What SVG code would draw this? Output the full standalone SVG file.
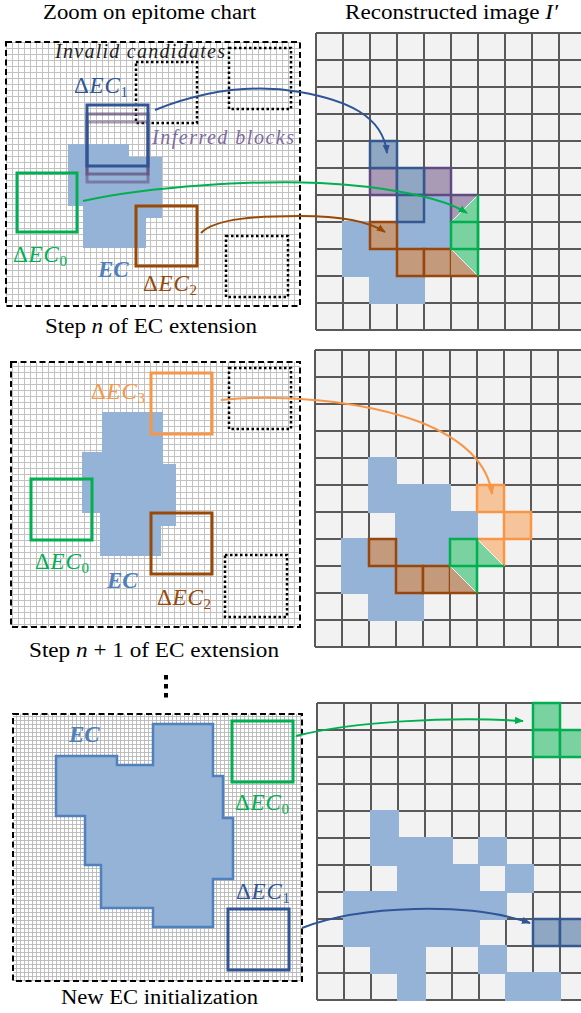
<svg xmlns="http://www.w3.org/2000/svg" width="581" height="1013" viewBox="0 0 581 1013">
<style>
text{font-family:'Liberation Serif','DejaVu Serif',serif}
.t{font-size:20px;fill:#000}
.i{font-style:italic}
.m{font-size:23px;font-style:italic;letter-spacing:0.8px}
.u{font-style:normal}
.sub{font-size:15px;font-style:normal}
.ec{font-size:23px;font-style:italic;font-weight:bold;fill:#4f81bd}
.note{font-size:20px;font-style:italic}
.dash{fill:none;stroke:#000;stroke-width:2;stroke-dasharray:6 3.5}
.dot{fill:none;stroke:#000;stroke-width:2.5;stroke-dasharray:2.5 2.5}
.box{fill:none;stroke-width:3}
.gline{fill:none;stroke:#595959;stroke-width:2}
.ecf{fill:#95b3d7}
.cb{fill:#8fa7c3;stroke:#35598f;stroke-width:2.5}
.cp{fill:#a99ab6;stroke:#5f4b80;stroke-width:2.5}
.cr{fill:#c39a7c;stroke:#97470c;stroke-width:2.5}
.cg{fill:#79d2a0;stroke:#00b050;stroke-width:2.5}
.co{fill:#f6c49a;stroke:#f79646;stroke-width:2.5}
.diag{stroke:#fff;stroke-width:0.8;fill:none}
.conn{fill:none;stroke-width:2}
</style>
<defs>
<pattern id="fg" width="6" height="6" patternUnits="userSpaceOnUse">
<rect width="6" height="6" fill="#fff"/>
<path d="M0,0.5H6M0.5,0V6" stroke="#c2c2c2" stroke-width="1"/>
</pattern>
<pattern id="fg2" width="4" height="4" patternUnits="userSpaceOnUse">
<rect width="4" height="4" fill="#fff"/>
<path d="M0,0.5H4M0.5,0V4" stroke="#b8b8b8" stroke-width="0.9"/>
</pattern>
<g id="grid">
<rect x="0" y="0" width="297" height="297" fill="#f2f2f2"/>
<path class="gline" d="M0 0V297M27 0V297M54 0V297M81 0V297M108 0V297M135 0V297M162 0V297M189 0V297M216 0V297M243 0V297M270 0V297M0 0H297M0 27H297M0 54H297M0 81H297M0 108H297M0 135H297M0 162H297M0 189H297M0 216H297M0 243H297M0 270H297M0 297H297"/>
</g>
<marker id="ab" viewBox="0 0 10 10" refX="9" refY="5" markerWidth="9" markerHeight="9" markerUnits="userSpaceOnUse" orient="auto"><path d="M0,1 L10,5 L0,9 z" fill="#2f5597"/></marker>
<marker id="ag" viewBox="0 0 10 10" refX="9" refY="5" markerWidth="9" markerHeight="9" markerUnits="userSpaceOnUse" orient="auto"><path d="M0,1 L10,5 L0,9 z" fill="#00b050"/></marker>
<marker id="ar" viewBox="0 0 10 10" refX="9" refY="5" markerWidth="9" markerHeight="9" markerUnits="userSpaceOnUse" orient="auto"><path d="M0,1 L10,5 L0,9 z" fill="#984807"/></marker>
<marker id="ao" viewBox="0 0 10 10" refX="9" refY="5" markerWidth="9" markerHeight="9" markerUnits="userSpaceOnUse" orient="auto"><path d="M0,1 L10,5 L0,9 z" fill="#f79646"/></marker>
</defs>

<g id="titles">
<text class="t" x="43" y="19" textLength="213" lengthAdjust="spacingAndGlyphs">Zoom on epitome chart</text>
<text class="t" x="345" y="19" textLength="213" lengthAdjust="spacingAndGlyphs">Reconstructed image <tspan class="i">I′</tspan></text>
</g>

<g id="chart-step-n">
<rect x="6" y="42" width="294" height="264" fill="url(#fg)"/>
<polygon class="ecf" points="68,144 129,144 129,157 162,157 162,218 146,218 146,248 83,248 83,206 68,206"/>
<rect class="dot" x="136" y="62" width="61" height="61"/>
<rect class="dot" x="229" y="48" width="62" height="61"/>
<rect class="dot" x="226" y="236" width="62" height="61"/>
<rect class="box" x="17" y="173" width="60" height="59" stroke="#00b050"/>
<rect class="box" x="136" y="206" width="61" height="60" stroke="#984807"/>
<rect class="box" x="87" y="122" width="61" height="60" stroke="#604a7b" stroke-opacity="0.55"/>
<rect class="box" x="87" y="114" width="61" height="60" stroke="#604a7b" stroke-opacity="0.7"/>
<rect class="box" x="87" y="105" width="61" height="61" stroke="#2f5597"/>
<rect class="dash" x="6" y="42" width="294" height="264"/>
<text class="note" x="55" y="58" fill="#1e1e1e" textLength="170" lengthAdjust="spacing">Invalid candidates</text>
<text class="note" x="152" y="144" fill="#7f6a9e" textLength="142" lengthAdjust="spacing">Inferred blocks</text>
<text class="m" x="74" y="93" fill="#2f5597"><tspan class="u">Δ</tspan>EC<tspan class="sub" dy="4">1</tspan></text>
<text class="m" x="13" y="262" fill="#00b050"><tspan class="u">Δ</tspan>EC<tspan class="sub" dy="4">0</tspan></text>
<text class="ec" x="98" y="277">EC</text>
<text class="m" x="143" y="291" fill="#984807"><tspan class="u">Δ</tspan>EC<tspan class="sub" dy="4">2</tspan></text>
<text class="t" x="45" y="333" textLength="212" lengthAdjust="spacingAndGlyphs">Step <tspan class="i">n</tspan> of EC extension</text>
</g>

<g id="image-step-n">
<use href="#grid" x="316" y="33"/>
<g class="ecf">
<rect x="423" y="194" width="29" height="29"/>
<rect x="342" y="221" width="29" height="29"/>
<rect x="396" y="221" width="29" height="29"/>
<rect x="423" y="221" width="29" height="29"/>
<rect x="342" y="248" width="29" height="29"/>
<rect x="369" y="248" width="29" height="29"/>
<rect x="369" y="275" width="29" height="29"/>
<rect x="396" y="275" width="29" height="29"/>
</g>
<rect class="cr" x="370" y="222" width="27" height="27"/>
<rect class="cr" x="397" y="249" width="27" height="27"/>
<rect class="cr" x="424" y="249" width="27" height="27"/>
<rect class="cp" x="370" y="168" width="27" height="27"/>
<rect class="cp" x="424" y="168" width="27" height="27"/>
<rect class="cb" x="370" y="141" width="27" height="27"/>
<rect class="cb" x="397" y="168" width="27" height="27"/>
<rect class="cb" x="397" y="195" width="27" height="27"/>
<polygon points="451,195 478,195 451,222" fill="#a99ab6"/>
<polygon points="478,195 478,222 451,222" fill="#79d2a0"/>
<path class="diag" d="M478,195 L451,222"/>
<path d="M451,222 V195 H478" fill="none" stroke="#5f4b80" stroke-width="2.5"/>
<polygon points="451,249 451,276 478,276" fill="#c39a7c"/>
<polygon points="451,249 478,249 478,276" fill="#79d2a0"/>
<path class="diag" d="M451,249 L478,276"/>
<path d="M451,276 H478" fill="none" stroke="#97470c" stroke-width="2.5"/>
<rect class="cg" x="451" y="222" width="27" height="27"/>
<path d="M478,195 V276" fill="none" stroke="#00b050" stroke-width="2.5"/>
</g>

<g id="chart-step-n1">
<rect x="11" y="362" width="289" height="265" fill="url(#fg)"/>
<polygon class="ecf" points="102,412 163,412 163,464 176,464 176,526 161,526 161,556 100,556 100,513 82,513 82,452 102,452"/>
<rect class="dot" x="229" y="368" width="62" height="61"/>
<rect class="dot" x="225" y="555" width="62" height="62"/>
<rect class="box" x="31" y="479" width="61" height="61" stroke="#00b050"/>
<rect class="box" x="151" y="513" width="61" height="61" stroke="#984807"/>
<rect class="box" x="151" y="373" width="61" height="61" stroke="#f79646"/>
<rect class="dash" x="11" y="362" width="289" height="265"/>
<text class="m" x="91" y="399" fill="#f79646"><tspan class="u">Δ</tspan>EC<tspan class="sub" dy="4">3</tspan></text>
<text class="m" x="35" y="569" fill="#00b050"><tspan class="u">Δ</tspan>EC<tspan class="sub" dy="4">0</tspan></text>
<text class="ec" x="107" y="588">EC</text>
<text class="m" x="157" y="605" fill="#984807"><tspan class="u">Δ</tspan>EC<tspan class="sub" dy="4">2</tspan></text>
<text class="t" x="29" y="657" textLength="250" lengthAdjust="spacingAndGlyphs">Step <tspan class="i">n</tspan> + 1 of EC extension</text>
</g>

<g id="image-step-n1">
<use href="#grid" x="315" y="350"/>
<g class="ecf">
<rect x="368" y="457" width="29" height="29"/>
<rect x="368" y="484" width="29" height="29"/>
<rect x="395" y="484" width="29" height="29"/>
<rect x="422" y="484" width="29" height="29"/>
<rect x="395" y="511" width="29" height="29"/>
<rect x="422" y="511" width="29" height="29"/>
<rect x="449" y="511" width="29" height="29"/>
<rect x="341" y="538" width="29" height="29"/>
<rect x="395" y="538" width="29" height="29"/>
<rect x="422" y="538" width="29" height="29"/>
<rect x="341" y="565" width="29" height="29"/>
<rect x="368" y="565" width="29" height="29"/>
<rect x="368" y="592" width="29" height="29"/>
<rect x="395" y="592" width="29" height="29"/>
</g>
<rect class="cr" x="369" y="539" width="27" height="27"/>
<rect class="cr" x="396" y="566" width="27" height="27"/>
<rect class="cr" x="423" y="566" width="27" height="27"/>
<rect class="co" x="477" y="485" width="27" height="27"/>
<rect class="co" x="504" y="512" width="27" height="27"/>
<polygon points="477,539 477,566 504,566" fill="#79d2a0"/>
<polygon points="477,539 504,539 504,566" fill="#f6c49a"/>
<path class="diag" d="M477,539 L504,566"/>
<path d="M477,539 H504 V566" fill="none" stroke="#f79646" stroke-width="2.5"/>
<polygon points="450,566 450,593 477,593" fill="#c39a7c"/>
<polygon points="450,566 477,566 477,593" fill="#79d2a0"/>
<path class="diag" d="M450,566 L477,593"/>
<path d="M450,593 H477" fill="none" stroke="#97470c" stroke-width="2.5"/>
<rect class="cg" x="450" y="539" width="27" height="27"/>
<path d="M477,566 H504 M477,566 V593" fill="none" stroke="#00b050" stroke-width="2.5"/>
</g>

<g id="chart-new-ec">
<rect x="164" y="675" width="4" height="4.5" fill="#000"/>
<rect x="164" y="684" width="4" height="4.5" fill="#000"/>
<rect x="164" y="693" width="4" height="4.5" fill="#000"/>
<rect x="13" y="714" width="289" height="267" fill="url(#fg2)"/>
<polygon points="56,756 117,756 117,765 153,765 153,724 213,724 213,776 223,776 223,818 233,818 233,879 213,879 213,927 153,927 153,908 101,908 101,865 85,865 85,816 56,816" fill="#95b3d7" stroke="#4f81bd" stroke-width="2.5"/>
<rect class="box" x="232" y="721" width="61" height="61" stroke="#00b050"/>
<rect class="box" x="228" y="909" width="61" height="61" stroke="#2f5597"/>
<rect class="dash" x="13" y="714" width="289" height="267"/>
<text class="ec" x="69" y="742">EC</text>
<text class="m" x="235" y="810" fill="#00b050"><tspan class="u">Δ</tspan>EC<tspan class="sub" dy="4">0</tspan></text>
<text class="m" x="236" y="899" fill="#2f5597"><tspan class="u">Δ</tspan>EC<tspan class="sub" dy="4">1</tspan></text>
<text class="t" x="61" y="1004" textLength="197" lengthAdjust="spacingAndGlyphs">New EC initialization</text>
</g>

<g id="image-new-ec">
<use href="#grid" x="317" y="703"/>
<g class="ecf">
<rect x="370" y="810" width="29" height="29"/>
<rect x="370" y="837" width="29" height="29"/>
<rect x="397" y="837" width="29" height="29"/>
<rect x="424" y="837" width="29" height="29"/>
<rect x="478" y="837" width="29" height="29"/>
<rect x="397" y="864" width="29" height="29"/>
<rect x="424" y="864" width="29" height="29"/>
<rect x="451" y="864" width="29" height="29"/>
<rect x="505" y="864" width="29" height="29"/>
<rect x="343" y="891" width="29" height="29"/>
<rect x="370" y="891" width="29" height="29"/>
<rect x="397" y="891" width="29" height="29"/>
<rect x="424" y="891" width="29" height="29"/>
<rect x="451" y="891" width="29" height="29"/>
<rect x="478" y="891" width="29" height="29"/>
<rect x="343" y="918" width="29" height="29"/>
<rect x="370" y="918" width="29" height="29"/>
<rect x="397" y="918" width="29" height="29"/>
<rect x="424" y="918" width="29" height="29"/>
<rect x="451" y="918" width="29" height="29"/>
<rect x="370" y="945" width="29" height="29"/>
<rect x="397" y="945" width="29" height="29"/>
<rect x="478" y="945" width="29" height="29"/>
<rect x="397" y="972" width="29" height="29"/>
<rect x="505" y="972" width="29" height="29"/>
<rect x="532" y="972" width="29" height="29"/>
</g>
<rect class="cg" x="533" y="703" width="27" height="27"/>
<rect class="cg" x="533" y="730" width="27" height="27"/>
<rect class="cg" x="560" y="730" width="27" height="27"/>
<rect class="cb" x="533" y="919" width="27" height="27"/>
<rect class="cb" x="560" y="919" width="27" height="27"/>
</g>

<g id="connectors">
<path class="conn" stroke="#2f5597" marker-end="url(#ab)" d="M155,110 Q230,80 300,92 C345,100 383,115 387,153"/>
<path class="conn" stroke="#00b050" marker-end="url(#ag)" d="M83,201 C150,186 260,180 320,183 C380,186 440,196 467,213"/>
<path class="conn" stroke="#984807" marker-end="url(#ar)" d="M201,233 C215,218 260,216 300,216 C340,216 370,222 385,232"/>
<path class="conn" stroke="#f79646" marker-end="url(#ao)" d="M221,400 C280,394 360,400 420,422 C465,440 488,465 492,494"/>
<path class="conn" stroke="#00b050" marker-end="url(#ag)" d="M296,736 C350,722 450,716 523,721"/>
<path class="conn" stroke="#2f5597" marker-end="url(#ab)" d="M302,928 C360,905 470,902 530,923"/>
</g>
</svg>
